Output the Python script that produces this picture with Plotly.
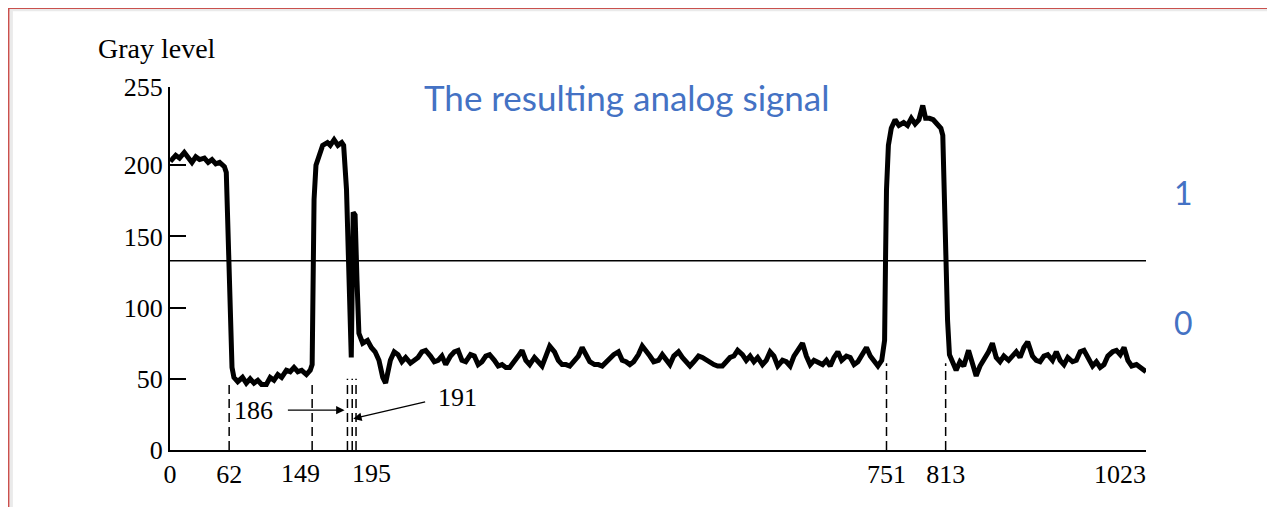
import plotly.graph_objects as go

# ---------------- data ----------------
signal_x = [0, 2, 6, 10, 15, 19, 23, 27, 31, 36, 40, 44, 48, 52, 57, 59,
            61, 63, 65, 67, 71, 76, 80, 84, 88, 92, 96, 101, 105, 109, 113, 117,
            122, 126, 130, 134, 138, 143, 147, 149,
            150, 151, 153, 156, 160, 165, 168, 172, 176, 180, 182,
            185, 187, 189, 190, 192, 194, 196, 198, 202, 207, 211, 215, 219, 223, 226,
            231, 235, 239, 243, 247, 252, 256, 260, 264, 268, 273, 277, 281, 285, 289,
            294, 298, 302, 306, 310, 315, 319, 323, 327, 331, 335, 340, 344, 348, 352,
            356, 361, 365, 369, 373, 377, 382, 386, 390, 394, 398, 403, 407, 411, 415,
            419, 424, 428, 432, 436, 440, 445, 449, 453, 457, 461, 465, 470, 474, 478,
            482, 486, 491, 495, 499, 503, 507, 512, 516, 520, 524, 528, 533, 537, 541,
            545, 549, 554, 558, 562, 566, 570, 574, 579, 583, 587, 591, 595, 600, 604,
            608, 612, 616, 621, 625, 629, 633, 637, 642, 646, 650, 654, 658, 663, 667,
            671, 675, 679, 684, 688, 692, 696, 700, 704, 709, 713, 717, 721, 725, 730,
            734, 738, 742, 746, 749,
            750, 751, 753, 756, 760, 764, 769, 773, 777, 781, 785, 789, 792, 796, 800,
            804, 808, 810,
            812, 815, 817, 820, 824, 828, 832, 837, 841, 845, 849, 853, 858, 862, 866,
            870, 874, 879, 883, 887, 891, 895, 899, 904, 908, 912, 916, 920, 925, 929,
            933, 937, 941, 946, 950, 954, 958, 962, 967, 971, 975, 979, 983, 988, 992,
            996, 1000, 1004, 1008, 1013, 1017, 1021, 1023]
signal_y = [205, 204, 207, 205, 209, 205, 202, 206, 204, 205, 202, 204, 201, 202, 199, 195,
            144, 91, 58, 51, 48, 51, 47, 50, 47, 49, 46, 46, 51, 49, 53, 51,
            56, 55, 58, 55, 56, 53, 56, 60,
            105, 176, 200, 207, 214, 216, 214, 218, 214, 216, 214,
            183, 134, 84, 65, 167, 165, 119, 82, 75, 77, 72, 69, 63, 51, 47,
            63, 69, 67, 62, 65, 61, 63, 65, 69, 70, 66, 62, 63, 66, 60,
            66, 69, 70, 63, 62, 67, 66, 60, 62, 66, 67, 63, 59, 60, 58,
            58, 62, 66, 70, 63, 60, 65, 62, 59, 66, 73, 69, 63, 60, 60,
            59, 63, 66, 72, 67, 62, 60, 60, 59, 62, 65, 67, 69, 63, 62,
            60, 62, 67, 73, 70, 66, 62, 63, 67, 63, 60, 66, 69, 65, 62,
            59, 62, 66, 65, 63, 62, 60, 59, 59, 62, 65, 66, 70, 67, 63,
            66, 62, 65, 60, 63, 69, 66, 59, 63, 62, 59, 66, 70, 75, 66,
            60, 63, 62, 60, 63, 59, 65, 69, 63, 66, 65, 60, 62, 67, 72,
            66, 62, 59, 63, 77,
            134, 183, 214, 226, 232, 228, 230, 228, 233, 229, 232, 242, 233, 233, 232,
            229, 226, 221,
            155, 91, 67, 63, 56, 62, 59, 70, 60, 52, 59, 63, 69, 75, 65,
            62, 66, 63, 66, 69, 65, 72, 76, 66, 63, 62, 66, 67, 63, 69,
            63, 60, 65, 62, 63, 69, 70, 65, 59, 62, 58, 60, 66, 69, 70,
            67, 72, 63, 59, 60, 58, 56, 55]

x_ticks = [0, 62, 149, 195, 751, 813, 1023]
# tick labels; the two crowded ones (149, 195) are set beside their ticks as in the original
NB = "\u00a0"
x_ticklabels = ["0", "62", "", "", "751", "813", "1023" + NB * 8]
side_ticks = [149, 195]
side_labels = ["149", "195"]
y_ticks = [0, 50, 100, 150, 200, 255]
threshold = 133

# dashed marker lines: position and height (gray level)
marker_x = [62, 149, 186, 191, 195, 751, 813]
marker_top = [47, 47, 50, 50, 50, 61, 61]

# arrow labels: (text, text x, text y, tail x, tail y, head x, head y)
arrow_labels = [
    ("186", 88, 28, 122, 28, 183, 28),
    ("191", 301, 37, 269, 34, 192, 22),
]

title_text = "The resulting analog signal"
y_title = "Gray level"
binary_labels = ["1", "0"]

SERIF = "Liberation Serif, Times New Roman, serif"
SANS = "Lato, Open Sans, sans-serif"
BLUE = "#4472C4"

fig = go.Figure()
fig.add_trace(go.Scatter(
    x=signal_x, y=signal_y, mode="lines",
    line=dict(color="black", width=5, shape="linear"),
    hoverinfo="skip", showlegend=False,
))

shapes = []
# threshold line
shapes.append(dict(type="line", xref="x", yref="y", x0=0, x1=1023,
                   y0=threshold, y1=threshold,
                   line=dict(color="black", width=1.5)))
# dashed marker lines
for mx, mt in zip(marker_x, marker_top):
    shapes.append(dict(type="line", xref="x", yref="y", x0=mx, x1=mx,
                       y0=0, y1=mt, line=dict(color="black", width=1.5, dash="9px,5px")))
# slide border (red) with faint shadow
shapes.append(dict(type="line", xref="paper", yref="paper",
                   x0=-0.165, x1=1.2, y0=1.2125, y1=1.2125,
                   line=dict(color="#EAEAEA", width=3)))
shapes.append(dict(type="line", xref="paper", yref="paper",
                   x0=-0.1625, x1=-0.1625, y0=1.215, y1=-0.2,
                   line=dict(color="#EAEAEA", width=3)))
shapes.append(dict(type="line", xref="paper", yref="paper",
                   x0=-0.1655, x1=1.2, y0=1.2175, y1=1.2175,
                   line=dict(color="#C9504D", width=2)))
shapes.append(dict(type="line", xref="paper", yref="paper",
                   x0=-0.1655, x1=-0.1655, y0=1.2175, y1=-0.2,
                   line=dict(color="#C9504D", width=2)))

annotations = []
for txt, tx, ty, axx, ayy, hx, hy in arrow_labels:
    annotations.append(dict(x=tx, y=ty, xref="x", yref="y", text=txt,
                            showarrow=False, font=dict(family=SERIF, size=26, color="black")))
    annotations.append(dict(x=hx, y=hy, ax=axx, ay=ayy, xref="x", yref="y",
                            axref="x", ayref="y", text="", showarrow=True,
                            arrowhead=2, arrowsize=1.3, arrowwidth=1.3, arrowcolor="black"))

# side-set tick labels for 149 (left of tick) and 195 (right of tick)
for tv, tl, anchor, shift in zip(side_ticks, side_labels, ["right", "left"], [10, -6]):
    annotations.append(dict(x=tv, y=-0.066, xref="x", yref="paper", text=tl,
                            xanchor=anchor, yanchor="middle", xshift=shift, showarrow=False,
                            font=dict(family=SERIF, size=26, color="black")))

annotations.append(dict(x=-0.0758, y=1.1074, xref="paper", yref="paper", text=y_title,
                        xanchor="left", yanchor="middle", showarrow=False,
                        font=dict(family=SERIF, size=28, color="black")))
annotations.append(dict(x=0.468, y=0.9725, xref="paper", yref="paper", text=title_text,
                        xanchor="center", yanchor="middle", showarrow=False,
                        font=dict(family=SANS, size=35, color=BLUE)))
for lab, py in zip(binary_labels, [0.708, 0.350]):
    annotations.append(dict(x=1.038, y=py, xref="paper", yref="paper", text=lab,
                            xanchor="center", yanchor="middle", showarrow=False,
                            font=dict(family=SANS, size=32, color=BLUE)))

# page body has an 8px margin; the figure is sized and offset to compensate
fig.update_layout(
    width=1267, height=499,
    margin=dict(l=162, r=129, t=79, b=57),
    paper_bgcolor="white", plot_bgcolor="white",
    shapes=shapes, annotations=annotations,
    showlegend=False,
    xaxis=dict(range=[0, 1023], tickvals=x_ticks, ticktext=x_ticklabels, tickangle=0,
               showgrid=False, zeroline=False, showline=True, linecolor="black",
               linewidth=2, ticks="", tickfont=dict(family=SERIF, size=26, color="black"),
               fixedrange=True, automargin=False),
    yaxis=dict(range=[0, 255], tickvals=y_ticks, ticktext=[str(v) for v in y_ticks],
               showgrid=False, zeroline=False, showline=True, linecolor="black",
               linewidth=2, ticks="inside", ticklen=16, tickwidth=2, tickcolor="black",
               tickfont=dict(family=SERIF, size=26, color="black"), fixedrange=True,
               automargin=False),
)

fig.write_html("out.html", config={"displayModeBar": False})
